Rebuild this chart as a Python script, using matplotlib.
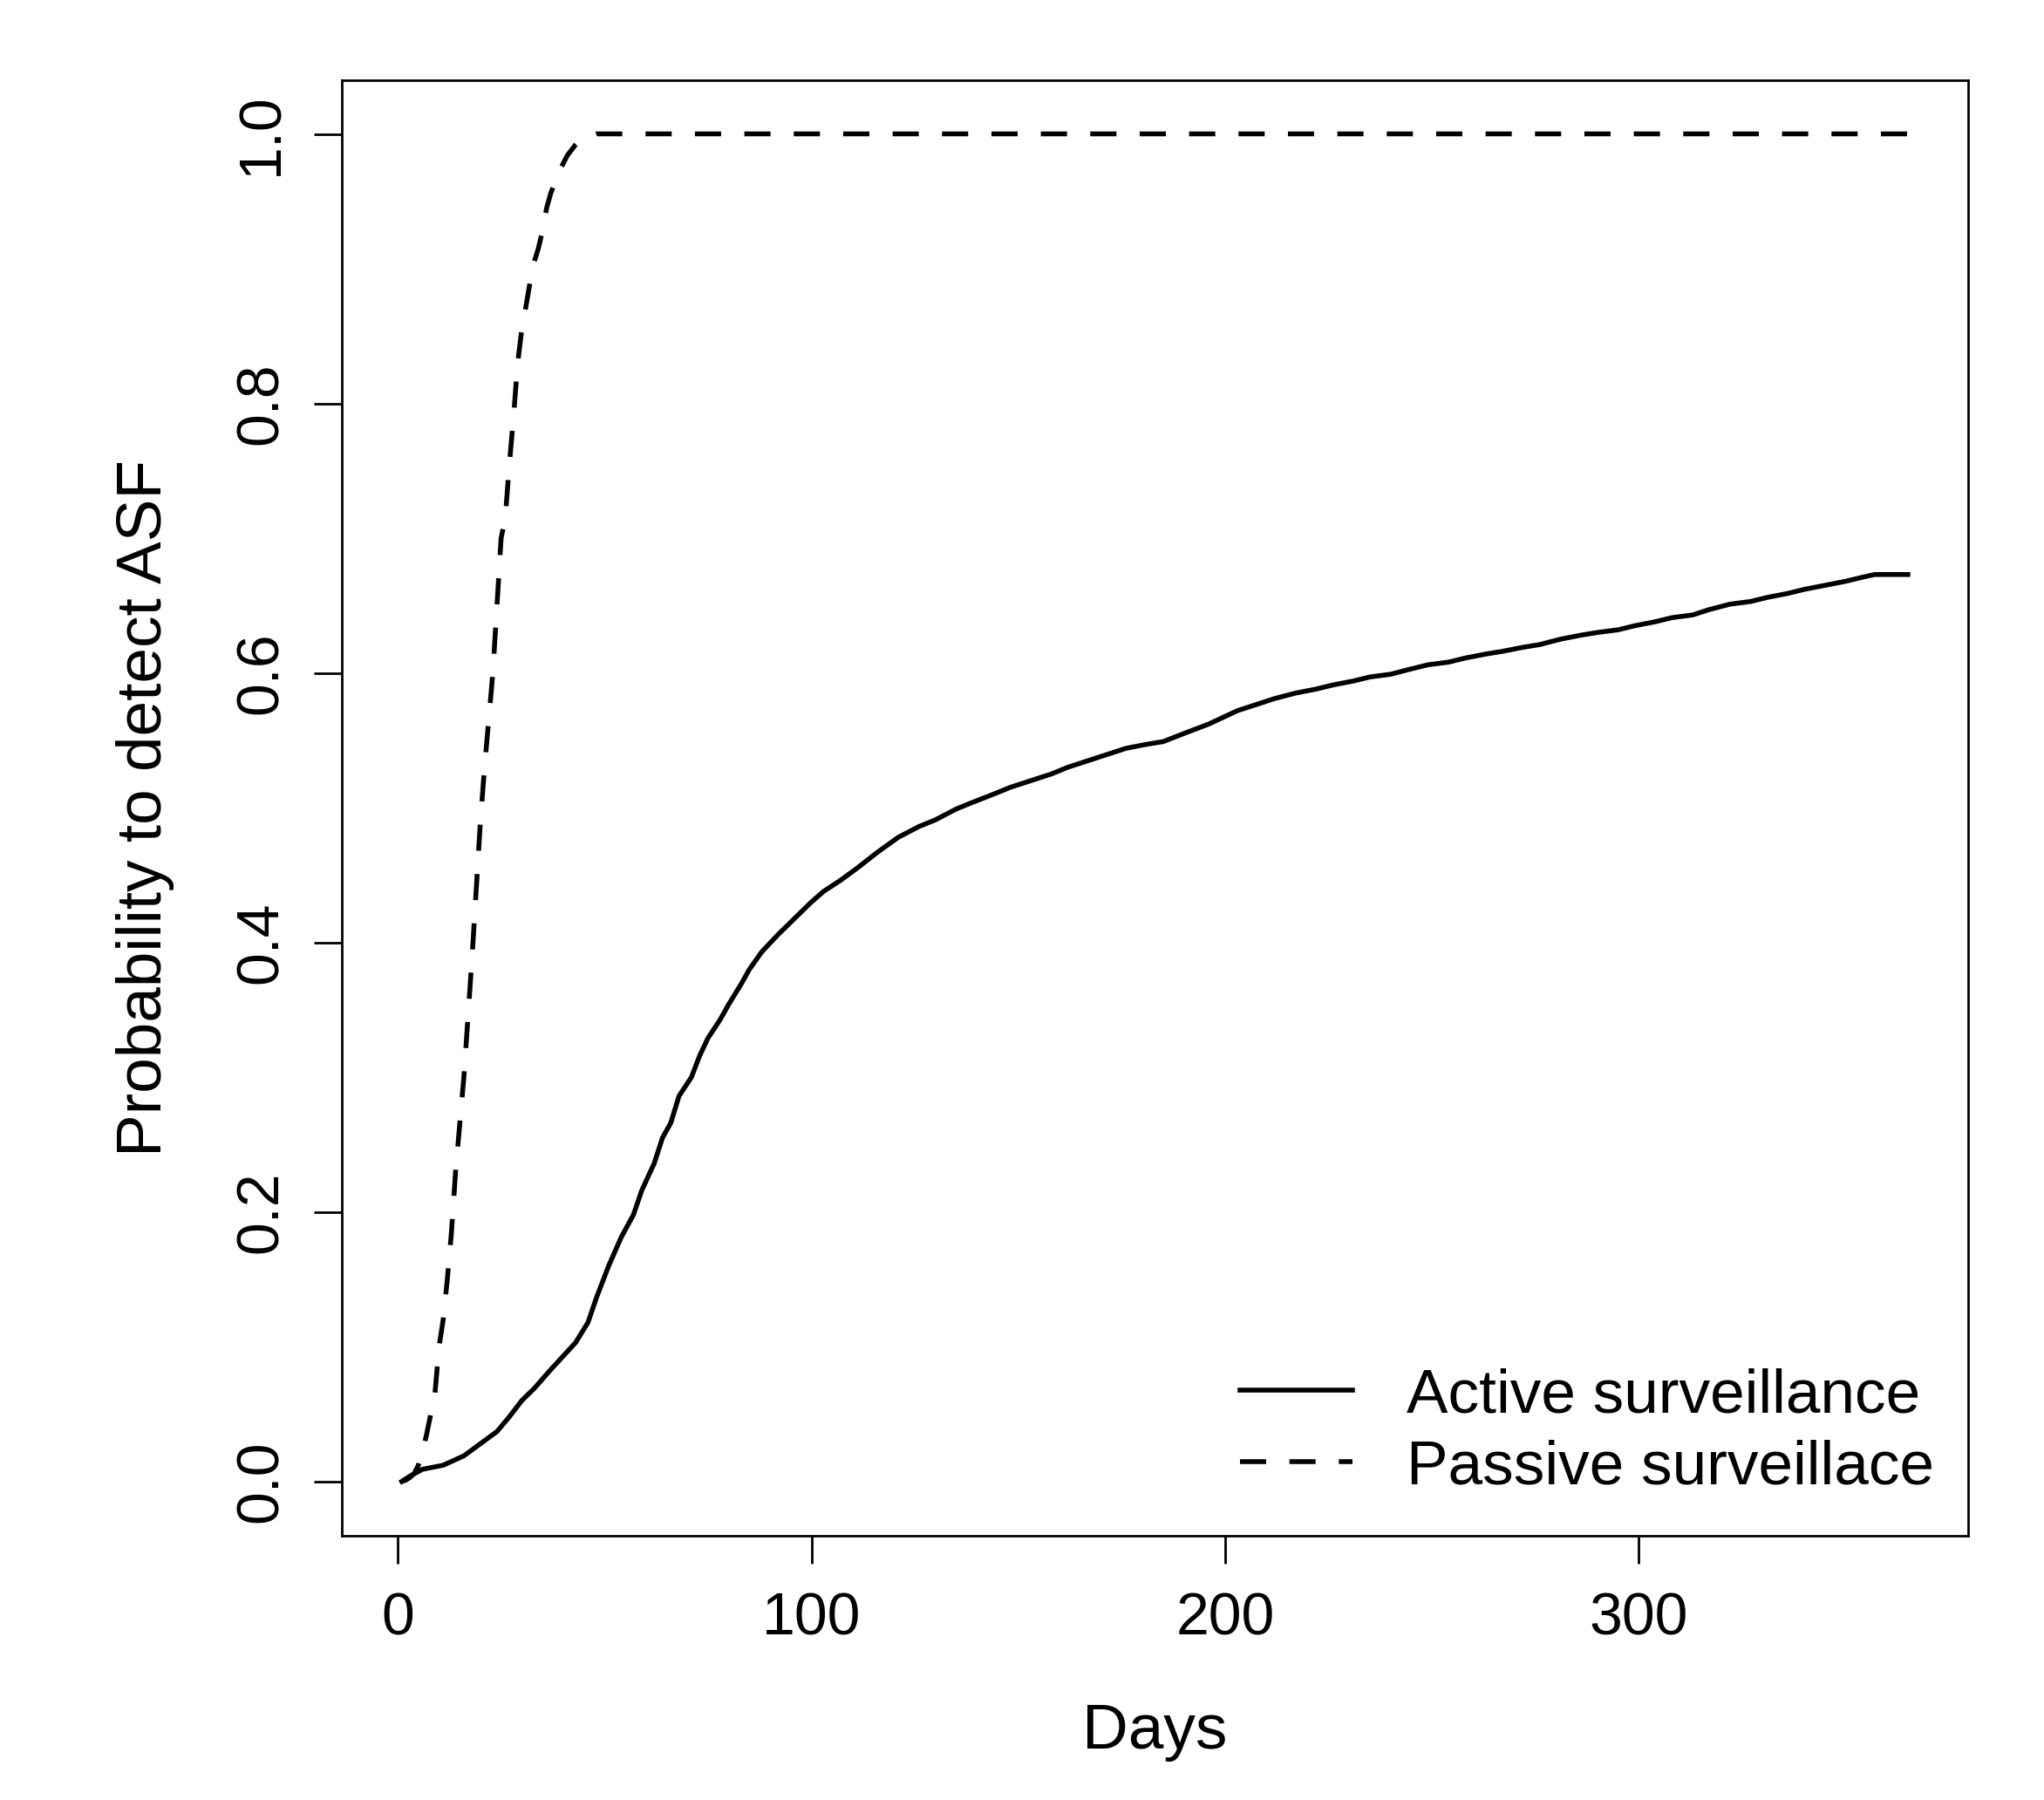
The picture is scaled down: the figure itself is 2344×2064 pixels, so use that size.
import matplotlib
matplotlib.use("Agg")
import matplotlib.pyplot as plt

plt.rcParams['font.family'] = ['Liberation Sans', 'DejaVu Sans']

# ---- data ----
active_days = [1, 3, 6, 11, 16, 20, 24, 27, 30, 33, 37, 40, 43, 46, 48, 51, 54, 57, 59, 62,
               64, 66, 68, 71, 73, 75, 78, 80, 83, 85, 88, 92, 96, 100, 103, 107, 111, 116,
               121, 126, 130, 135, 139, 144, 148, 153, 158, 162, 167, 172, 176, 181, 185,
               190, 196, 203, 208, 212, 217, 222, 226, 231, 235, 240, 245, 249, 254, 258,
               263, 267, 272, 276, 281, 286, 290, 295, 299, 304, 308, 313, 317, 322, 327,
               331, 336, 340, 345, 350, 354, 357, 365]
active_prob = [0.0, 0.004, 0.009, 0.012, 0.019, 0.028, 0.037, 0.048, 0.060, 0.069, 0.083,
               0.093, 0.103, 0.118, 0.136, 0.160, 0.181, 0.198, 0.216, 0.236, 0.255, 0.266,
               0.286, 0.300, 0.316, 0.329, 0.343, 0.354, 0.369, 0.380, 0.393, 0.406, 0.418,
               0.430, 0.438, 0.446, 0.455, 0.467, 0.478, 0.486, 0.491, 0.499, 0.504, 0.510,
               0.515, 0.520, 0.525, 0.530, 0.535, 0.540, 0.544, 0.547, 0.549, 0.555, 0.562,
               0.572, 0.577, 0.581, 0.585, 0.588, 0.591, 0.594, 0.597, 0.599, 0.603, 0.606,
               0.608, 0.611, 0.614, 0.616, 0.619, 0.621, 0.625, 0.628, 0.630, 0.632, 0.635,
               0.638, 0.641, 0.643, 0.647, 0.651, 0.653, 0.656, 0.659, 0.662, 0.665, 0.668,
               0.671, 0.673, 0.673]

passive_days = [1, 2, 3, 4, 5, 6, 7, 8, 9, 10, 11, 12, 13, 14, 15, 16, 17, 18, 19, 20,
                21, 22, 23, 24, 25, 26, 27, 28, 29, 30, 31, 32, 33, 34, 35, 36, 37, 38,
                39, 40, 41, 42, 43, 44, 45, 46, 47, 48, 365]
passive_prob = [0.0, 0.001, 0.003, 0.006, 0.012, 0.022, 0.035, 0.05, 0.065, 0.10, 0.12,
                0.15, 0.185, 0.23, 0.265, 0.30, 0.345, 0.39, 0.44, 0.49, 0.53, 0.565,
                0.60, 0.65, 0.70, 0.715, 0.755, 0.79, 0.83, 0.855, 0.872, 0.89, 0.905,
                0.915, 0.928, 0.945, 0.956, 0.964, 0.972, 0.978, 0.984, 0.988, 0.992,
                0.995, 0.997, 0.998, 0.999, 1.0, 1.0]

series_labels = ["Active surveillance", "Passive surveillace"]
x_ticks = [0, 100, 200, 300]
y_ticks = [0.0, 0.2, 0.4, 0.6, 0.8, 1.0]
y_tick_labels = ["0.0", "0.2", "0.4", "0.6", "0.8", "1.0"]
x_label = "Days"
y_label = "Probability to detect ASF"

# ---- figure ----
W, H, DPI = 2344, 2064, 200
fig = plt.figure(figsize=(W / DPI, H / DPI), dpi=DPI)
ax = fig.add_axes([391.7 / W, 1 - 1760.5 / H, (2257 - 391.7) / W, (1760.5 - 91.7) / H])

fs_tick = 24.5
fs_lab = 26.3
fs_leg = 25.6
ax.plot(active_days, active_prob, color='black', lw=2.0, solid_joinstyle='miter',
        label=series_labels[0])
ax.plot(passive_days, passive_prob, color='black', lw=2.0, linestyle=(0, (5.4, 4.8)),
        label=series_labels[1])

xmin, xmax = 1, 365
rx = xmax - xmin
ax.set_xlim(xmin - 0.04 * rx, xmax + 0.04 * rx)
ax.set_ylim(-0.04, 1.04)

ax.set_xticks(x_ticks)
ax.set_xticklabels([str(t) for t in x_ticks])
ax.set_yticks(y_ticks)
ax.set_yticklabels(y_tick_labels)

for s in ax.spines.values():
    s.set_linewidth(1.0)
ax.tick_params(axis='both', direction='out', length=11.5, width=1.0, labelsize=fs_tick,
               color='black')
ax.tick_params(axis='x', pad=11.5)
ax.tick_params(axis='y', pad=10)
for lab in ax.get_yticklabels():
    lab.set_rotation(90)
    lab.set_va('center')

ax.set_xlabel(x_label, fontsize=fs_lab)
ax.set_ylabel(y_label, fontsize=fs_lab)
ax.xaxis.set_label_coords(0.5, -0.1357)
ax.xaxis.label.set_va('center')
ax.yaxis.set_label_coords(-0.1205, 0.5)
ax.yaxis.label.set_va('center')

fs_px = fs_leg * DPI / 72.0
leg = ax.legend(loc='upper left', bbox_to_anchor=(1422 / W, 1 - 1568 / H),
                bbox_transform=fig.transFigure, frameon=False, fontsize=fs_leg,
                handlelength=129 / fs_px, handletextpad=(1613 - 1551) / fs_px,
                borderpad=0, borderaxespad=0, labelspacing=0.23)

fig.savefig("out.png", dpi=DPI, facecolor='white')
